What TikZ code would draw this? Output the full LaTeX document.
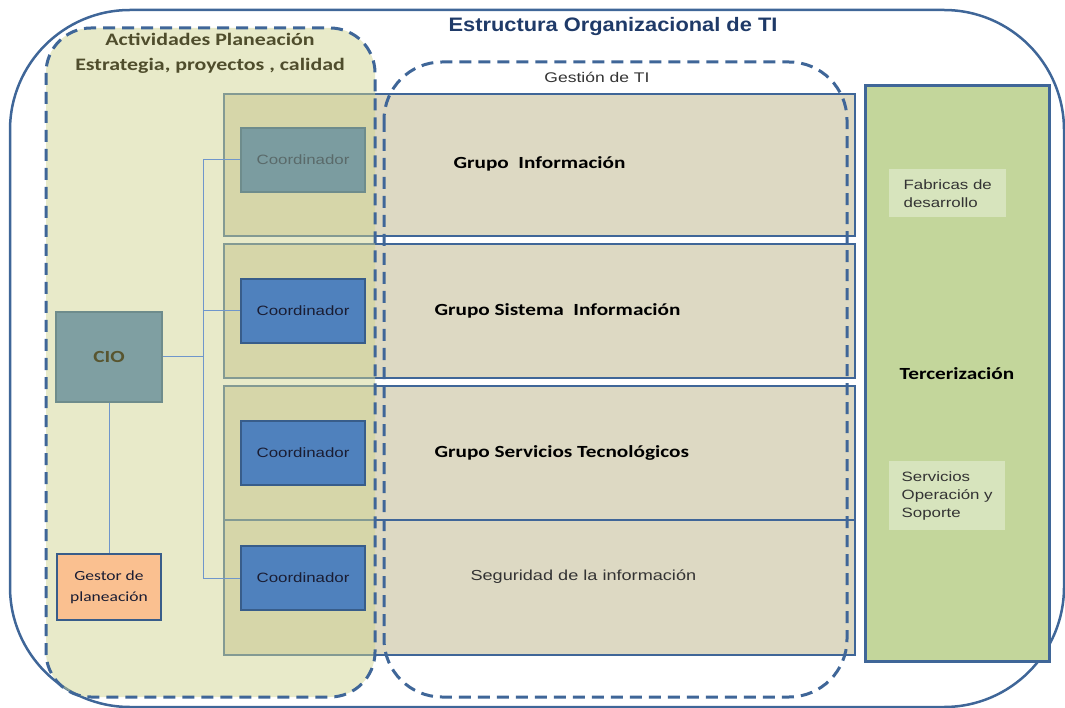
\documentclass[tikz,border=0pt]{standalone}
\usepackage{fontspec}
\setmainfont{Liberation Sans}[FakeStretch=1.25]
\newfontfamily\calfont{Carlito}[FakeStretch=1.25]
\newfontfamily\headfont{Liberation Sans}[FakeStretch=1.12]
\usepackage{xcolor}
\definecolor{oframe}{HTML}{3F6698}
\definecolor{otitle}{HTML}{1F3A68}
\definecolor{orow}{HTML}{DDD9C3}
\definecolor{oplan}{HTML}{CFD38E}
\definecolor{oplantext}{HTML}{4F4D2C}
\definecolor{ocoord}{HTML}{4F81BD}
\definecolor{ocoordline}{HTML}{385D8A}
\definecolor{ocoordtext}{HTML}{1A1D33}
\definecolor{ofaded}{HTML}{7B9CA0}
\definecolor{ofadedline}{HTML}{6E8C8C}
\definecolor{ofadedtext}{HTML}{5A6A6A}
\definecolor{ocio}{HTML}{7F9FA2}
\definecolor{ociotext}{HTML}{58552F}
\definecolor{ogestor}{HTML}{FAC090}
\definecolor{ogreen}{HTML}{C3D69B}
\definecolor{olightgreen}{HTML}{D7E4BD}
\definecolor{olink}{HTML}{6F96CB}
\definecolor{otext}{HTML}{333333}

\begin{document}
\begin{tikzpicture}[x=1pt, y=-1pt,
		rowbox/.style={color=oframe, fill=orow, line width=2.2pt},
		dashedframe/.style={color=oframe, line width=3pt, dash pattern=on 12pt off 7pt},
		coordbox/.style={draw=ocoordline, fill=ocoord, line width=2.5pt, minimum width=124pt, minimum height=64pt, inner sep=0pt, text=ocoordtext, font=\fontsize{13.5}{16}\selectfont},
		subbox/.style={fill=olightgreen, align=left, anchor=north west, inner xsep=11pt, inner ysep=0pt, text=otext, font=\fontsize{13.5}{18}\selectfont},
		grouplabel/.style={anchor=west, font=\calfont\bfseries\fontsize{17}{20}\selectfont},
		link/.style={color=olink, line width=1pt}]
		\useasboundingbox (0,0) rectangle (1065,708);
		% outer frame
		\draw[color=oframe, line width=2.5pt, rounded corners=120pt] (10,10) rectangle (1064,707);
		\node[font=\headfont\bfseries\fontsize{19.5}{22}\selectfont, text=otitle] (title) at (613,27) {Estructura Organizacional de TI};
		% group rows
		\draw[rowbox] (224,94) rectangle (855,236);
		\draw[rowbox] (224,244) rectangle (855,378);
		\draw[rowbox] (224,386) rectangle (855,520);
		\draw[rowbox] (224,520) rectangle (855,655);
		\node[grouplabel] (ginfo) at (450,164) {Grupo\ \ Información};
		\node[grouplabel] (gsis) at (431,311) {Grupo Sistema\ \ Información};
		\node[grouplabel] (gserv) at (431,453) {Grupo Servicios Tecnológicos};
		\node[anchor=west, text=otext, font=\fontsize{14.5}{17}\selectfont] (gseg) at (467,577) {Seguridad de la información};
		% planning area
		\fill[color=oplan, fill opacity=0.48, rounded corners=45pt] (46,28) rectangle (375,697);
		\node[align=center, text=oplantext, font=\calfont\bfseries\fontsize{17.5}{25}\selectfont] (plan) at (210,53) {Actividades Planeación\\Estrategia, proyectos , calidad};
		% boxes
		\coordinate (bus) at (203,357);
		\node[draw=ofadedline, fill=ocio, line width=2.5pt, minimum width=106pt, minimum height=90pt, text=ociotext, font=\calfont\bfseries\fontsize{17}{20}\selectfont] (cio) at (109,357) {CIO};
		\node[draw=ocoordline, fill=ogestor, line width=2.5pt, minimum width=104pt, minimum height=66pt, align=center, text=ocoordtext, font=\calfont\fontsize{14}{21}\selectfont] (gestor) at (109,587) {Gestor de\\planeación};
		\node[coordbox, draw=ofadedline, fill=ofaded, text=ofadedtext] (c1) at (303,160) {Coordinador};
		\node[coordbox] (c2) at (303,311) {Coordinador};
		\node[coordbox] (c3) at (303,453) {Coordinador};
		\node[coordbox] (c4) at (303,578) {Coordinador};
		% links
		\draw[link] (cio.east) -- (bus);
		\draw[link] (c1.west) -| (bus);
		\draw[link] (c2.west) -| (bus);
		\draw[link] (c4.west) -| (bus);
		\draw[link] (cio.south) -- (gestor.north);
		% dashed areas
		\draw[dashedframe, rounded corners=45pt] (46,28) rectangle (375,697);
		\draw[dashedframe, rounded corners=58pt] (384,62) rectangle (847,697);
		\node[text=otext, font=\fontsize{14}{17}\selectfont] (gestion) at (597,77) {Gestión de TI};
		% outsourcing
		\node[draw=oframe, fill=ogreen, line width=3pt, minimum width=184pt, minimum height=575pt, font=\calfont\bfseries\fontsize{17}{20}\selectfont] (terc) at (957,373.5) {Tercerización};
		\node[subbox, minimum width=117pt, minimum height=48pt] (fab) at (889,169) {Fabricas de\\desarrollo};
		\node[subbox, minimum width=116pt, minimum height=69pt] (serv) at (889,461) {Servicios\\Operación y\\Soporte};
	\end{tikzpicture}
\end{document}
